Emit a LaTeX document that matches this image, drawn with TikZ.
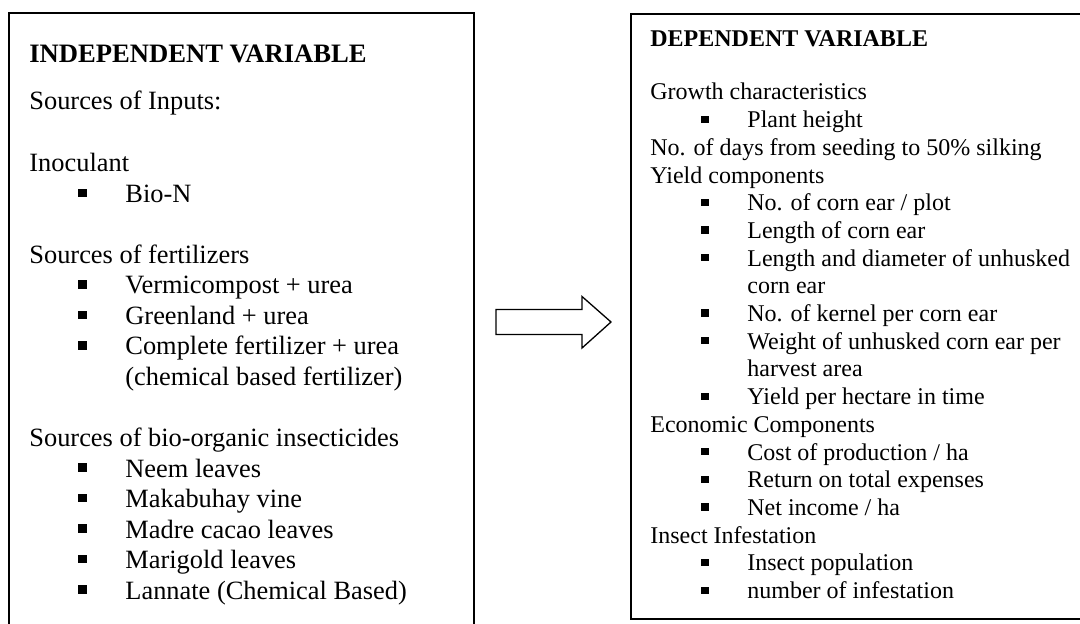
\documentclass[tikz,border=0pt]{standalone}
\usepackage{fontspec}
\setmainfont{Liberation Serif}
\tikzset{
  frame/.style={draw, line width=1pt, inner sep=0pt, anchor=north west},
  ltxt/.style={anchor=base west, inner sep=0pt, font=\fontsize{13.2}{15}\selectfont},
  lhead/.style={anchor=base west, inner sep=0pt, font=\fontsize{13.3}{15}\selectfont\bfseries},
  rtxt/.style={anchor=base west, inner sep=0pt, font=\fontsize{12}{14}\selectfont},
  rhead/.style={anchor=base west, inner sep=0pt, font=\fontsize{12}{14}\selectfont\bfseries},
  lbul/.style={fill=black, inner sep=0pt, minimum size=4.2pt},
  rbul/.style={fill=black, inner sep=0pt, minimum size=3.6pt},
  blockarrow/.style={draw, line width=0.65pt, fill=white, line join=miter}
}
\newcommand\LItem[3]{\node[lbul] (#1b) at (82.5,#2-9.5) {}; \node[ltxt] (#1) at (125,#2) {#3};}
\newcommand\RItem[3]{\node[rbul] (#1b) at (705,#2-8.5) {}; \node[rtxt] (#1) at (747,#2) {#3};}
\begin{document}
\begin{tikzpicture}[x=0.5pt, y=-0.5pt]
\useasboundingbox (0,0) rectangle (1080,624);
\clip (0,0) rectangle (1080,624);
% boxes
\node[frame, minimum width=232.5pt, minimum height=320pt] (indep) at (8,12) {};
\node[frame, minimum width=232.5pt, minimum height=302.5pt] (dep) at (630,13) {};
% arrow
\coordinate (tail) at (496,322);
\draw[blockarrow] (tail) ++(0,-12.5) -- ++(86,0) -- ++(0,-13) -- (611,322) -- (582,348) -- (582,334.5) -- (496,334.5) -- cycle;
% left text
\node[lhead] (lh) at (29,63) {INDEPENDENT VARIABLE};
\node[ltxt] (l1) at (29,110) {Sources of Inputs:};
\node[ltxt] (l2) at (29,172) {Inoculant};
\LItem{la}{202.5}{Bio-N}
\node[ltxt] (l3) at (29,263.5) {Sources of fertilizers};
\LItem{lb}{294}{Vermicompost + urea}
\LItem{lc}{324.5}{Greenland + urea}
\LItem{ld}{355}{Complete fertilizer + urea}
\node[ltxt] (ld2) at (125,385.5) {(chemical based fertilizer)};
\node[ltxt] (l4) at (29,446.5) {Sources of bio-organic insecticides};
\LItem{le}{477}{Neem leaves}
\LItem{lf}{507.5}{Makabuhay vine}
\LItem{lg}{538}{Madre cacao leaves}
\LItem{lh2}{568.5}{Marigold leaves}
\LItem{li}{599}{Lannate (Chemical Based)}
% right text
\node[rhead] (rh) at (650,47) {DEPENDENT VARIABLE};
\node[rtxt] (r1) at (650,100) {Growth characteristics};
\RItem{ra}{127.7}{Plant height}
\node[rtxt] (r2) at (650,155.4) {No. of days from seeding to 50\% silking};
\node[rtxt] (r3) at (650,183.1) {Yield components};
\RItem{rb}{210.8}{No. of corn ear / plot}
\RItem{rc}{238.5}{Length of corn ear}
\RItem{rd}{266.2}{Length and diameter of unhusked}
\node[rtxt] (rd2) at (747,293.9) {corn ear};
\RItem{re}{321.6}{No. of kernel per corn ear}
\RItem{rf}{349.3}{Weight of unhusked corn ear per}
\node[rtxt] (rf2) at (747,377) {harvest area};
\RItem{rg}{404.7}{Yield per hectare in time}
\node[rtxt] (r4) at (650,432.4) {Economic Components};
\RItem{rh2}{460.1}{Cost of production / ha}
\RItem{ri}{487.8}{Return on total expenses}
\RItem{rj}{515.5}{Net income / ha}
\node[rtxt] (r5) at (650,543.2) {Insect Infestation};
\RItem{rk}{570.9}{Insect population}
\RItem{rl}{598.6}{number of infestation}
\end{tikzpicture}
\end{document}
